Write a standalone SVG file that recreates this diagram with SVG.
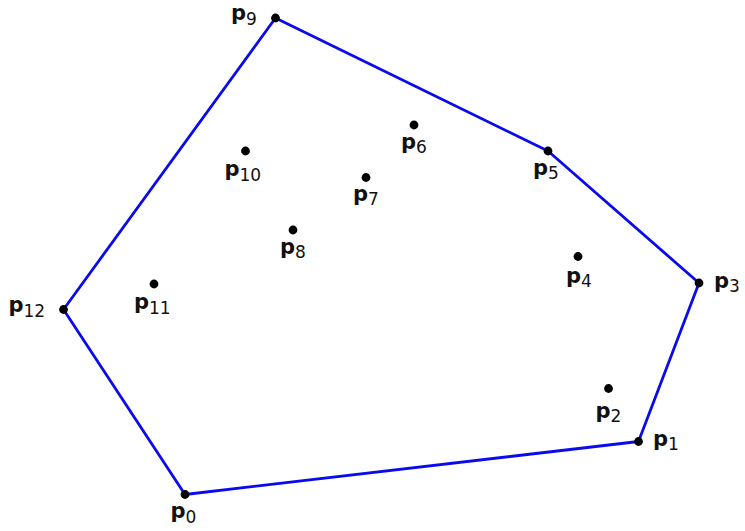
<svg xmlns="http://www.w3.org/2000/svg" width="745" height="531" viewBox="0 0 745 531">
<style>
.hull{fill:none;stroke:#0a0aee;stroke-width:2.8;stroke-linejoin:round}
.pt{fill:#000}
.lbl{font-family:"DejaVu Sans","Liberation Sans",sans-serif;font-size:21px;font-weight:bold;fill:#111}
.sub{font-size:17px;font-weight:normal}
</style>
<rect width="745" height="531" fill="#fff"/>
<g id="connectors">
<polygon class="hull" points="185,494.5 638.5,441.5 699,283 548,151 275.5,18 63.5,309.5"/>
</g>
<g id="p0"><circle class="pt" cx="185" cy="494.5" r="4.4"/><text class="lbl" x="170.5" y="518">p<tspan class="sub" dy="5">0</tspan></text></g>
<g id="p1"><circle class="pt" cx="638.5" cy="441.5" r="4.4"/><text class="lbl" x="653" y="446">p<tspan class="sub" dy="4">1</tspan></text></g>
<g id="p2"><circle class="pt" cx="608.5" cy="388.5" r="4.4"/><text class="lbl" x="595.5" y="418">p<tspan class="sub" dy="4">2</tspan></text></g>
<g id="p3"><circle class="pt" cx="699" cy="283" r="4.4"/><text class="lbl" x="714" y="288">p<tspan class="sub" dy="4">3</tspan></text></g>
<g id="p4"><circle class="pt" cx="578" cy="256.5" r="4.4"/><text class="lbl" x="566" y="283">p<tspan class="sub" dy="4">4</tspan></text></g>
<g id="p5"><circle class="pt" cx="548" cy="151" r="4.4"/><text class="lbl" x="533" y="175">p<tspan class="sub" dy="4">5</tspan></text></g>
<g id="p6"><circle class="pt" cx="414" cy="125" r="4.4"/><text class="lbl" x="401" y="149">p<tspan class="sub" dy="4">6</tspan></text></g>
<g id="p7"><circle class="pt" cx="366" cy="177.5" r="4.4"/><text class="lbl" x="353" y="201">p<tspan class="sub" dy="4">7</tspan></text></g>
<g id="p8"><circle class="pt" cx="293" cy="230" r="4.4"/><text class="lbl" x="280" y="254">p<tspan class="sub" dy="4">8</tspan></text></g>
<g id="p9"><circle class="pt" cx="275.5" cy="18" r="4.4"/><text class="lbl" x="231" y="20">p<tspan class="sub" dy="5">9</tspan></text></g>
<g id="p10"><circle class="pt" cx="245.5" cy="151" r="4.4"/><text class="lbl" x="224.5" y="176">p<tspan class="sub" dy="5">10</tspan></text></g>
<g id="p11"><circle class="pt" cx="154" cy="284" r="4.4"/><text class="lbl" x="134" y="308.5">p<tspan class="sub" dy="5">11</tspan></text></g>
<g id="p12"><circle class="pt" cx="63.5" cy="309.5" r="4.4"/><text class="lbl" x="8.5" y="312">p<tspan class="sub" dy="5">12</tspan></text></g>
</svg>
